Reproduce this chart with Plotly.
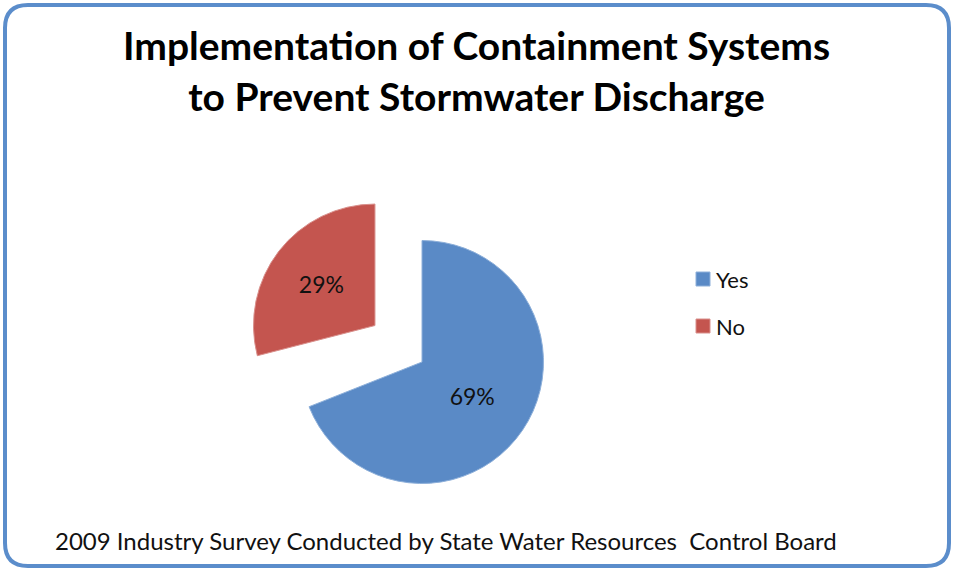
import plotly.graph_objects as go

# survey answers (the unlabelled 2% is the gap Excel left between the slices)
labels = ["Yes", "No", " "]
values = [69, 29, 2]
colors = ["#5A8AC6", "#C4554F", "rgba(0,0,0,0)"]
edge_colors = ["#8EB0DA", "#D9908C", "rgba(0,0,0,0)"]
pulls = [0, 0.49, 0]
slice_text = ["%{percent:.0%}", "%{percent:.0%}", ""]
legend_items = 2  # only Yes / No get a legend entry

title_text = "Implementation of Containment Systems<br>to Prevent Stormwater Discharge"
footer_text = "2009 Industry Survey Conducted by State Water Resources  Control Board"

W, H = 953, 571
FONT = "Lato, 'Open Sans', sans-serif"


def px_x(x):
    return x / W


def px_y(y):
    return 1 - y / H


# counterclockwise with rotation 0: Yes fills clockwise from 12 o'clock,
# No sits just left of 12, the blank gap lands between them lower left
fig = go.Figure(go.Pie(
    labels=labels,
    values=values,
    sort=False,
    direction="counterclockwise",
    rotation=0,
    pull=pulls,
    marker=dict(colors=colors, line=dict(color=edge_colors, width=1)),
    texttemplate=slice_text,
    textposition="inside",
    insidetextorientation="horizontal",
    textfont=dict(family=FONT, size=23, color="#111111"),
    hoverinfo="label+percent",
    showlegend=False,
    domain=dict(x=[px_x(422 - 181), px_x(422 + 181)],
                y=[px_y(362 + 181), px_y(362 - 181)]),
))

# legend drawn by hand so the rows can sit as far apart as in the original
for i in range(legend_items):
    cy = 279 + 47 * i
    fig.add_shape(type="rect", xref="paper", yref="paper",
                  x0=px_x(696), x1=px_x(710), y0=px_y(cy + 7), y1=px_y(cy - 7),
                  fillcolor=colors[i], line=dict(color=edge_colors[i], width=1))
    fig.add_annotation(text=labels[i], xref="paper", yref="paper",
                       x=px_x(714), y=px_y(cy), xanchor="left", yanchor="middle",
                       showarrow=False, font=dict(family=FONT, size=22, color="#111111"))

# rounded chart border
x0, x1, y0, y1, r = 5, 949, 5, 566, 23
path = (f"M {px_x(x0 + r)},{px_y(y0)} L {px_x(x1 - r)},{px_y(y0)} "
        f"Q {px_x(x1)},{px_y(y0)} {px_x(x1)},{px_y(y0 + r)} "
        f"L {px_x(x1)},{px_y(y1 - r)} Q {px_x(x1)},{px_y(y1)} {px_x(x1 - r)},{px_y(y1)} "
        f"L {px_x(x0 + r)},{px_y(y1)} Q {px_x(x0)},{px_y(y1)} {px_x(x0)},{px_y(y1 - r)} "
        f"L {px_x(x0)},{px_y(y0 + r)} Q {px_x(x0)},{px_y(y0)} {px_x(x0 + r)},{px_y(y0)} Z")
fig.add_shape(type="path", path=path, xref="paper", yref="paper",
              line=dict(color="#5B8DCB", width=4))

fig.add_annotation(text=footer_text, xref="paper", yref="paper",
                   x=px_x(53), y=px_y(540), xanchor="left", yanchor="middle",
                   showarrow=False, font=dict(family=FONT, size=24, color="#111111"))

fig.update_layout(
    width=W, height=H,
    margin=dict(l=0, r=0, t=0, b=0),
    paper_bgcolor="white",
    plot_bgcolor="white",
    title=dict(text=title_text, x=0.5, xanchor="center",
               y=px_y(60), yref="container", yanchor="top",
               font=dict(family=FONT, size=39, color="#000000", weight="bold")),
)

fig.write_html("out.html", config={"displayModeBar": False},
               post_script="document.body.style.margin = '0px';")
